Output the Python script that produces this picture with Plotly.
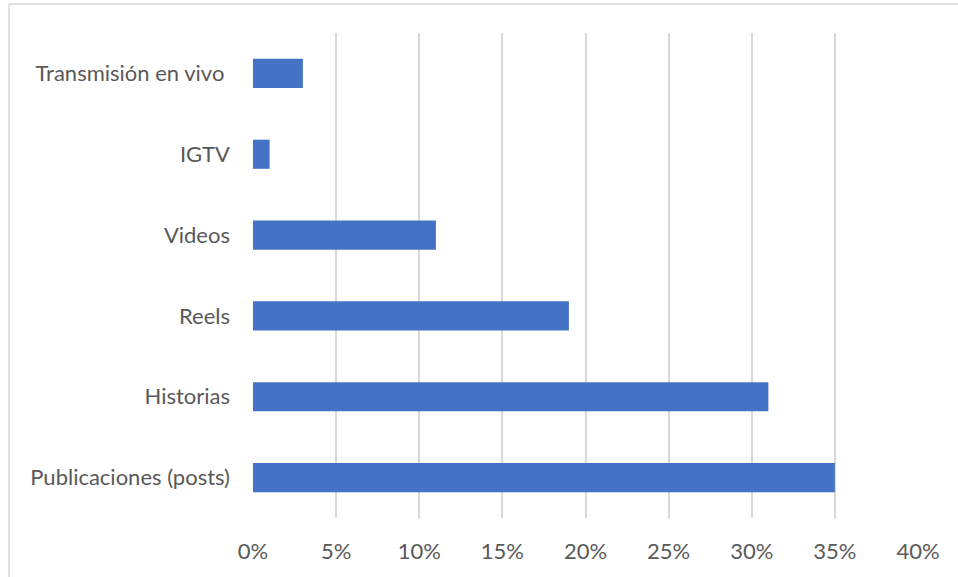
import plotly.graph_objects as go

# Formats listed top to bottom, with the share of each (in %)
formats = ["Transmisión en vivo\u00a0", "IGTV", "Videos", "Reels", "Historias", "Publicaciones (posts)"]
shares = [3, 1, 11, 19, 31, 35]
tick_vals = [0, 5, 10, 15, 20, 25, 30, 35, 40]
tick_text = ["0%", "5%", "10%", "15%", "20%", "25%", "30%", "35%", "40%"]

W, H = 958, 577
L, R, T, B = 253, 40, 33, 59
pw, ph = W - L - R, H - T - B

fig = go.Figure(
    go.Bar(
        x=shares,
        y=formats,
        orientation="h",
        width=0.36,
        marker=dict(color="#4472C4", line=dict(width=0)),
        hoverinfo="x+y",
    )
)

font = dict(family="Lato, 'Open Sans', sans-serif", size=22, color="#595959")

fig.update_layout(
    width=W,
    height=H,
    margin=dict(l=L, r=R, t=T, b=B),
    paper_bgcolor="white",
    plot_bgcolor="white",
    showlegend=False,
    font=font,
    xaxis=dict(
        range=[0, 40],
        tickvals=tick_vals,
        ticktext=tick_text,
        showgrid=True,
        gridcolor="#d9d9d9",
        gridwidth=1.5,
        zeroline=False,
        showline=False,
        ticks="",
        ticklabelstandoff=18,
        tickfont=font,
        fixedrange=True,
    ),
    yaxis=dict(
        autorange="reversed",
        showgrid=False,
        zeroline=False,
        showline=False,
        ticks="",
        ticklabelstandoff=22,
        tickfont=font,
        fixedrange=True,
    ),
    shapes=[
        # chart frame: left and top edges
        dict(type="line", xref="paper", yref="paper",
             x0=(9 - L) / pw, x1=(9 - L) / pw,
             y0=1 + (T - 4) / ph, y1=-(H - T - ph + 10) / ph,
             line=dict(color="#d9d9d9", width=1.5)),
        dict(type="line", xref="paper", yref="paper",
             x0=(9 - L) / pw, x1=(W + 10 - L) / pw,
             y0=1 + (T - 4) / ph, y1=1 + (T - 4) / ph,
             line=dict(color="#d9d9d9", width=1.5)),
    ],
)

fig.write_html("out.html")
